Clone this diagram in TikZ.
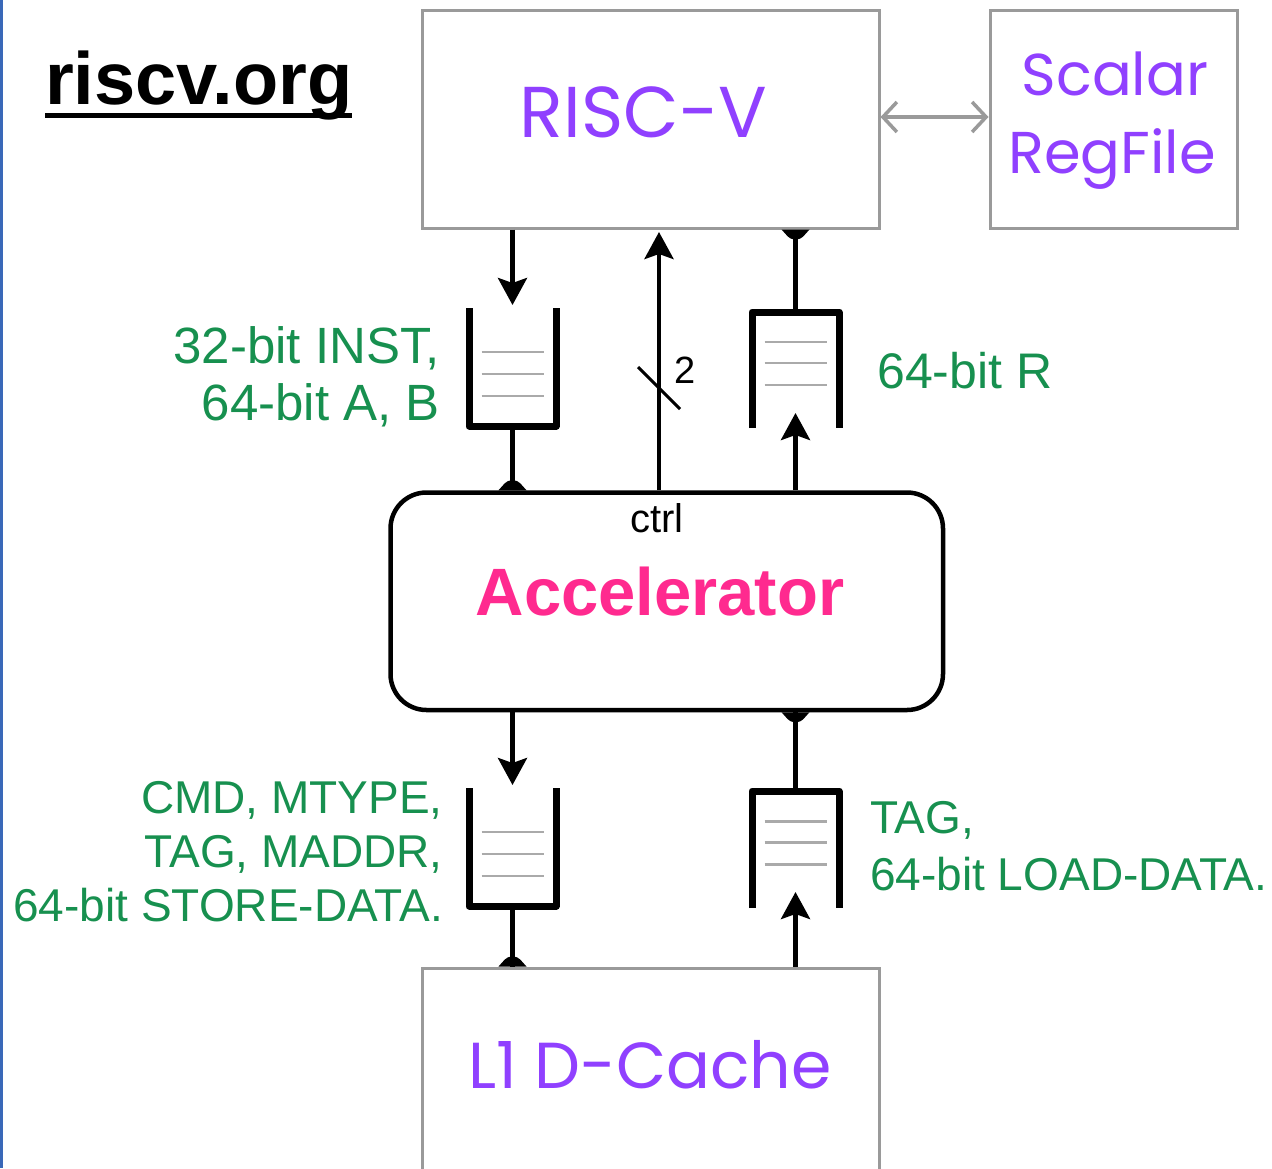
\documentclass[tikz,border=0pt]{standalone}
\usepackage{fontspec}
\setmainfont{Liberation Sans}
\newfontfamily\comic{Poppins}
\usetikzlibrary{arrows.meta,calc}
\definecolor{purp}{HTML}{9040FF}
\definecolor{pinkk}{HTML}{FF2A8F}
\definecolor{grn}{HTML}{17904F}
\definecolor{boxgray}{HTML}{9A9A9A}
\definecolor{qgray}{HTML}{AAAAAA}
\definecolor{edgeblue}{HTML}{3A68B8}
\begin{document}
\begin{tikzpicture}[x=1pt,y=-1pt,
  graybox/.style={draw=boxgray,line width=3pt,inner sep=0pt,fill=white},
  qbox/.style={draw=none,inner sep=0pt,outer sep=0pt,minimum width=87pt},
  wall/.style={line width=7pt,line join=round,line cap=butt},
  qline/.style={draw=qgray,line width=2.6pt},
  stem/.style={line width=4.5pt},
  arr/.style={line width=4.5pt,-{Stealth[length=27pt,width=29pt,inset=5pt]}},
  purptext/.style={text=purp,inner sep=0pt,anchor=base},
  grntext/.style={text=grn,inner sep=0pt},
  domeup/.pic={\fill (-14,0) [rounded corners=4pt]-- (-5,-10) -- (5,-10) [sharp corners]-- (14,0) -- cycle;},
  domedown/.pic={\fill (-14,0) [rounded corners=4pt]-- (-5,10) -- (5,10) [sharp corners]-- (14,0) -- cycle;}
]
\useasboundingbox (0,0) rectangle (1272,1168);
\fill[white] (0,0) rectangle (1272,1168);
\fill[edgeblue] (0,0) rectangle (2.5,1168);

% logo
\node[anchor=base west,inner sep=0pt,font=\fontsize{74}{74}\selectfont\bfseries] (logo) at (45,104) {riscv.org};
\draw[line width=5pt] ($(logo.base west)+(0,11)$) -- ($(logo.base east)+(0,11)$);

% boxes
\node[graybox,minimum width=457pt,minimum height=218pt] (risc) at (650.5,119) {};
\node[graybox,minimum width=247pt,minimum height=218pt] (reg) at (1113.5,119) {};
\node[graybox,minimum width=457pt,minimum height=214pt] (l1) at (650.5,1075) {};
\node[draw,line width=4.5pt,rounded corners=36pt,inner sep=0pt,minimum width=552.5pt,minimum height=217.5pt] (acc) at (666.75,601.25) {};

% box texts
\node[purptext,font=\comic\fontsize{72}{72}\selectfont] (risct) at (643.5,137) {RISC-V};
\node[purptext,font=\comic\fontsize{59}{59}\selectfont] (regt1) at (1115,95) {Scalar};
\node[purptext,font=\comic\fontsize{59}{59}\selectfont] (regt2) at (1112,173) {RegFile};
\node[purptext,font=\comic\fontsize{65}{65}\selectfont] (l1t) at (650,1088) {L1 D-Cache};
\node[text=pinkk,inner sep=0pt,anchor=base,font=\fontsize{67}{67}\selectfont\bfseries] (acct) at (660,615) {Accelerator};

% double arrow
\draw[draw=boxgray,line width=3.5pt,{Straight Barb[length=14pt,width=30pt]}-{Straight Barb[length=14pt,width=30pt]}]
  ([yshift=2pt]risc.east) -- ([yshift=2pt]reg.west);

% queues
\node[qbox,minimum height=118pt] (q1) at (512.5,367) {};
\node[qbox,minimum height=116pt] (q2) at (795.5,370) {};
\node[qbox,minimum height=118pt] (q3) at (512.5,847) {};
\node[qbox,minimum height=117pt] (q4) at (795.5,849.5) {};
\draw[wall] (q1.north west) -- (q1.south west) -- (q1.south east) -- (q1.north east);
\draw[wall] (q3.north west) -- (q3.south west) -- (q3.south east) -- (q3.north east);
\draw[wall] (q2.south west) -- (q2.north west) -- (q2.north east) -- (q2.south east);
\draw[wall] (q4.south west) -- (q4.north west) -- (q4.north east) -- (q4.south east);
\foreach \d in {-15,7,29} {
  \draw[qline] ($(q1.center)+(-31,\d)$) -- ($(q1.center)+(31,\d)$);
  \draw[qline] ($(q3.center)+(-31,\d)$) -- ($(q3.center)+(31,\d)$);
}
\foreach \d in {-28,-7,15} {
  \draw[qline] ($(q2.center)+(-31,\d)$) -- ($(q2.center)+(31,\d)$);
  \draw[qline] ($(q4.center)+(-31,\d)$) -- ($(q4.center)+(31,\d)$);
}

% connectors
\coordinate (cx) at (659,0);
\draw[arr,shorten >=3pt] (risc.south -| q1.north) -- (q1.north);
\draw[stem] (q1.south) -- (acc.north -| q1.south);
\pic at (acc.north -| q1.south) {domeup};
\draw[arr,shorten >=2.5pt] (acc.north -| cx) -- (risc.south -| cx);
\draw[line width=3pt] (638,367) -- (680,409);
\node[inner sep=0pt,anchor=base,font=\fontsize{38}{38}\selectfont] (two) at (685,383) {2};
\node[inner sep=0pt,anchor=base,font=\fontsize{40}{40}\selectfont] (ctrl) at (657,532) {ctrl};
\draw[stem] (q2.north) -- (risc.south -| q2.north);
\pic at (risc.south -| q2.north) {domedown};
\draw[arr,shorten >=-15pt] (acc.north -| q2.south) -- (q2.south);
\draw[arr,shorten >=3pt] (acc.south -| q3.north) -- (q3.north);
\draw[stem] (q3.south) -- (l1.north -| q3.south);
\pic at (l1.north -| q3.south) {domeup};
\draw[stem] (q4.north) -- (acc.south -| q4.north);
\pic at (acc.south -| q4.north) {domedown};
\draw[arr,shorten >=-16pt] (l1.north -| q4.south) -- (q4.south);

% labels
\node[grntext,anchor=base east,align=right,font=\fontsize{51}{57}\selectfont] (lab1) at (440,420) {32-bit INST,\\64-bit A, B};
\node[grntext,anchor=base west,font=\fontsize{50}{50}\selectfont] (lab2) at (877,388) {64-bit R};
\node[grntext,anchor=base east,align=right,font=\fontsize{46}{54}\selectfont] (lab3) at (443,921) {CMD, MTYPE,\\TAG, MADDR,\\64-bit STORE-DATA.};
\node[grntext,anchor=base west,align=left,font=\fontsize{46}{57}\selectfont] (lab4) at (870,890) {TAG,\\64-bit LOAD-DATA.};
\end{tikzpicture}
\end{document}
